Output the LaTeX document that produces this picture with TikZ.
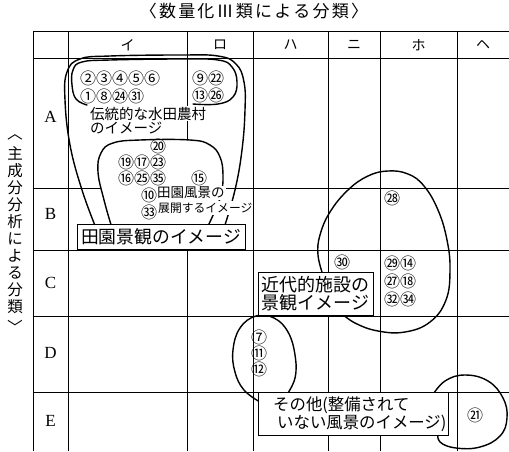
\documentclass[tikz,border=0pt]{standalone}
\usepackage{fontspec}
\setmainfont{Liberation Serif}
\newfontfamily\jp{Noto Sans CJK JP}
\newcommand{\ks}{\kern2.2pt}
\begin{document}
\begin{tikzpicture}[x=1pt,y=-1pt,
  gridline/.style={line width=0.8pt},
  blob/.style={line width=1.4pt, line join=round, line cap=round},
  labbox/.style={draw, line width=0.9pt, fill=white, inner sep=0pt},
  num/.style={font=\jp\fontsize{16}{16}\selectfont, inner sep=0pt},
  kana/.style={font=\jp\fontsize{14}{14}\selectfont, inner sep=0pt},
  rowlab/.style={font=\fontsize{17}{17}\selectfont, inner sep=0pt},
  lab/.style={font=\jp\fontsize{14.5}{15}\selectfont, inner sep=1pt, fill=white, anchor=west},
  vfont/.style={font=\jp\fontsize{15.5}{17}\selectfont, inner sep=0pt},
]
\useasboundingbox (0,0) rectangle (509,451);
\fill[white] (0,0) rectangle (509,451);

% grid
\foreach \y in {31,58,188,250,316,392} \draw[gridline] (33,\y) -- (509,\y);
\foreach \x in {33,68,187,253,328,380,457} \draw[gridline] (\x,31) -- (\x,451);

% titles
\node[font=\jp\fontsize{17}{17}\selectfont, inner sep=0pt] (title) at (254,11)
  {〈\ks 数\ks 量\ks 化\ks Ⅲ\ks 類\ks に\ks よ\ks る\ks 分\ks 類\ks 〉};
\node[vfont, align=center] (vtitle) at (15,230)
  {主\\成\\分\\分\\析\\に\\よ\\る\\分\\類};
\node[vfont, rotate=-90] (vtl) at (15,133) {〈};
\node[vfont, rotate=-90] (vtr) at (15,327) {〉};

% column heads
\node[kana] (ci) at (127.5,45) {イ};
\node[kana] (cro) at (220,45) {ロ};
\node[kana] (cha) at (290.5,45) {ハ};
\node[kana] (cni) at (354,45) {ニ};
\node[kana] (cho) at (418.5,45) {ホ};
\node[kana] (che) at (483,45) {ヘ};
% row heads
\node[rowlab] (ra) at (50.5,117) {A};
\node[rowlab] (rb) at (50.5,214) {B};
\node[rowlab] (rc) at (50.5,283) {C};
\node[rowlab] (rd) at (50.5,353) {D};
\node[rowlab] (re) at (50.5,421) {E};

% tenkai region (filled white, hides grid)
\fill[white] plot[smooth, tension=0.7] coordinates {(112,228) (104,200) (98,172) (101,153) (113,143) (140,140) (190,140) (210,145) (220,157) (223,175) (221,195) (214,213) (207,228)} -- cycle;

% curves
\draw[blob] plot[smooth, tension=0.7] coordinates {(112,228) (104,200) (98,172) (101,153) (113,143) (140,140) (190,140) (210,145) (220,157) (223,175) (221,195) (214,213) (207,228)};
\draw[blob] plot[smooth, tension=0.7] coordinates {(96,228) (82,190) (70,145) (65,100) (67,72) (80,59) (110,56) (180,55) (218,56) (236,64) (244,82) (245,110) (242,150) (235,190) (224,228)};
\draw[blob] plot[smooth, tension=0.7] coordinates {(87,105) (76,99) (72,85) (73,70) (82,62) (110,60) (180,59) (218,60) (232,67) (237,82) (233,97) (218,104) (193,104)};
\draw[blob] plot[smooth, tension=0.7] coordinates {(323,275) (318,255) (320,235) (330,212) (348,190) (368,176) (388,171) (408,174) (424,186) (438,210) (447,240) (450,270) (446,300) (430,322) (405,332) (378,331) (355,323) (340,312)};
\draw[blob] plot[smooth, tension=0.7] coordinates {(260,402) (244,390) (235,372) (233,350) (240,328) (256,316) (274,318) (288,332) (295,355) (295,378) (286,396)};
\draw[blob] plot[smooth, tension=0.7] coordinates {(432,396) (445,381) (465,375) (488,381) (503,398) (507,418) (500,436) (480,447) (456,448) (440,442) (438,432)};

% label boxes
\node[labbox, minimum width=168pt, minimum height=25pt, font=\jp\fontsize{17.8}{17.8}\selectfont] (b1) at (161,236.5) {田園景観のイメージ};
\node[labbox, minimum width=115pt, minimum height=43pt, align=left, font=\jp\fontsize{18}{18.5}\selectfont] (b2) at (315.5,293.5) {近代的施設の\\景観イメージ};
\node[labbox, minimum width=190pt, minimum height=43pt] (b3) at (353,413.5) {};
\node[font=\jp\fontsize{16.4}{16}\selectfont, align=left, anchor=west, inner sep=0pt] (t3) at (273,414.5) {その他(整備されて\\\hspace{4pt}いない風景のイメージ)};

% text labels
\node[lab] (t1a) at (89,113.5) {伝統的な水田農村};
\node[lab] (t1b) at (89,128) {のイメージ};
\node[lab, font=\jp\fontsize{13.5}{14}\selectfont] (t2a) at (156,193) {田園風景の};
\node[lab, font=\jp\fontsize{11.8}{12}\selectfont, inner ysep=1.5pt] (t2b) at (157,208) {展開するイメージ};

% numbers
\node[num] (n2) at (88,78) {②};
\node[num] (n3) at (104,78) {③};
\node[num] (n4) at (120,78) {④};
\node[num] (n5) at (136,78) {⑤};
\node[num] (n6) at (152,78) {⑥};
\node[num] (n1) at (88,96) {①};
\node[num] (n8) at (104,96) {⑧};
\node[num] (n24) at (120,96) {㉔};
\node[num] (n31) at (136,96) {㉛};
\node[num] (n9) at (200,78) {⑨};
\node[num] (n22) at (216,78) {㉒};
\node[num] (n13) at (200,95) {⑬};
\node[num] (n26) at (216,95) {㉖};
\node[num] (n20) at (158,146) {⑳};
\node[num] (n19) at (126,162) {⑲};
\node[num] (n17) at (142,162) {⑰};
\node[num] (n23) at (158,162) {㉓};
\node[num] (n16) at (126,178) {⑯};
\node[num] (n25) at (142,178) {㉕};
\node[num] (n35) at (158,178) {㉟};
\node[num] (n15) at (199,178) {⑮};
\node[num] (n10) at (149,195) {⑩};
\node[num] (n33) at (149,212) {㉝};
\node[num] (n28) at (392,198) {㉘};
\node[num] (n30) at (342,262) {㉚};
\node[num] (n29) at (392,263) {㉙};
\node[num] (n14) at (408,263) {⑭};
\node[num] (n27) at (392,281) {㉗};
\node[num] (n18) at (408,281) {⑱};
\node[num] (n32) at (392,299) {㉜};
\node[num] (n34) at (408,299) {㉞};
\node[num] (n7) at (259,337) {⑦};
\node[num] (n11) at (259,353) {⑪};
\node[num] (n12) at (259,369) {⑫};
\node[num] (n21) at (475,415) {㉑};
\end{tikzpicture}
\end{document}
